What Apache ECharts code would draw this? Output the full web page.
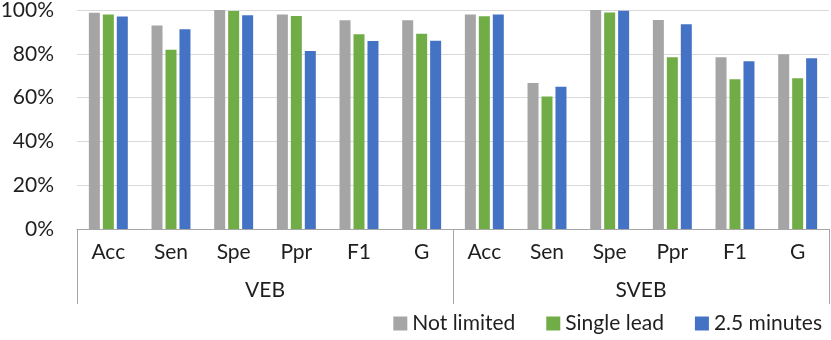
<!DOCTYPE html>
<html lang="en">
<head>
    <meta charset="UTF-8">
    <title>VEB / SVEB</title>
    <script src="https://cdn.jsdelivr.net/npm/echarts@6/dist/echarts.min.js"></script>
    <style>
        body, html { margin: 0; background: #fff; }
        #main { width: 831px; height: 340px; }
    </style>
</head>
<body>
    <div id="main"></div>
    <script>
        var metrics = ['Acc', 'Sen', 'Spe', 'Ppr', 'F1', 'G'];
        var groups = ['VEB', 'SVEB'];
        var yTicks = [0, 20, 40, 60, 80, 100];
        // values in % (VEB first, then SVEB)
        var notLimited = [98.8, 92.9, 100, 98.0, 95.3, 95.3, 98.0, 66.7, 100, 95.4, 78.4, 79.8];
        var singleLead = [97.9, 81.8, 99.5, 97.3, 88.9, 89.2, 97.1, 60.5, 98.9, 78.4, 68.4, 68.8];
        var twoHalfMin = [97.0, 91.2, 97.6, 81.3, 85.9, 86.0, 98.0, 65.0, 99.7, 93.5, 76.6, 78.0];

        var cats = [];
        groups.forEach(function () { cats = cats.concat(metrics); });
        var font = 'Lato';
        var txt = '#1f1f1f';
        var fs = 21;

        function bar(name, color, data) {
            return {
                name: name, type: 'bar', data: data,
                barWidth: 11, barGap: '27%',
                itemStyle: { color: color }
            };
        }

        var chart = echarts.init(document.getElementById('main'));
        chart.setOption({
            animation: false,
            textStyle: { fontFamily: font },
            grid: { left: 77, right: 2, top: 10, bottom: 111, outerBoundsMode: 'none' },
            legend: {
                right: 4, bottom: 1,
                itemWidth: 14, itemHeight: 14, itemGap: 31,
                icon: 'rect',
                textStyle: { fontSize: fs, color: txt, fontFamily: font },
                data: ['Not limited', 'Single lead', '2.5 minutes']
            },
            xAxis: [{
                type: 'category', data: cats,
                axisLine: { lineStyle: { color: '#a6a6a6', width: 1 } },
                axisTick: { show: false },
                axisLabel: { fontSize: fs, color: txt, margin: 13, interval: 0 }
            }, {
                type: 'category', data: groups, position: 'bottom', offset: 75,
                axisLine: { show: false },
                axisTick: { show: true, inside: true, length: 75, lineStyle: { color: '#a6a6a6' } },
                axisLabel: { inside: true, fontSize: fs, color: txt, margin: 3 }
            }],
            yAxis: {
                type: 'value', min: yTicks[0], max: yTicks[yTicks.length - 1], interval: 20,
                axisLine: { show: false }, axisTick: { show: false },
                splitLine: { lineStyle: { color: '#d9d9d9', width: 1 } },
                axisLabel: { formatter: '{value}%', fontSize: fs, color: txt, margin: 23 }
            },
            series: [
                bar('Not limited', '#a5a5a5', notLimited),
                bar('Single lead', '#70ad47', singleLead),
                bar('2.5 minutes', '#4472c4', twoHalfMin)
            ]
        });
    </script>
</body>
</html>
